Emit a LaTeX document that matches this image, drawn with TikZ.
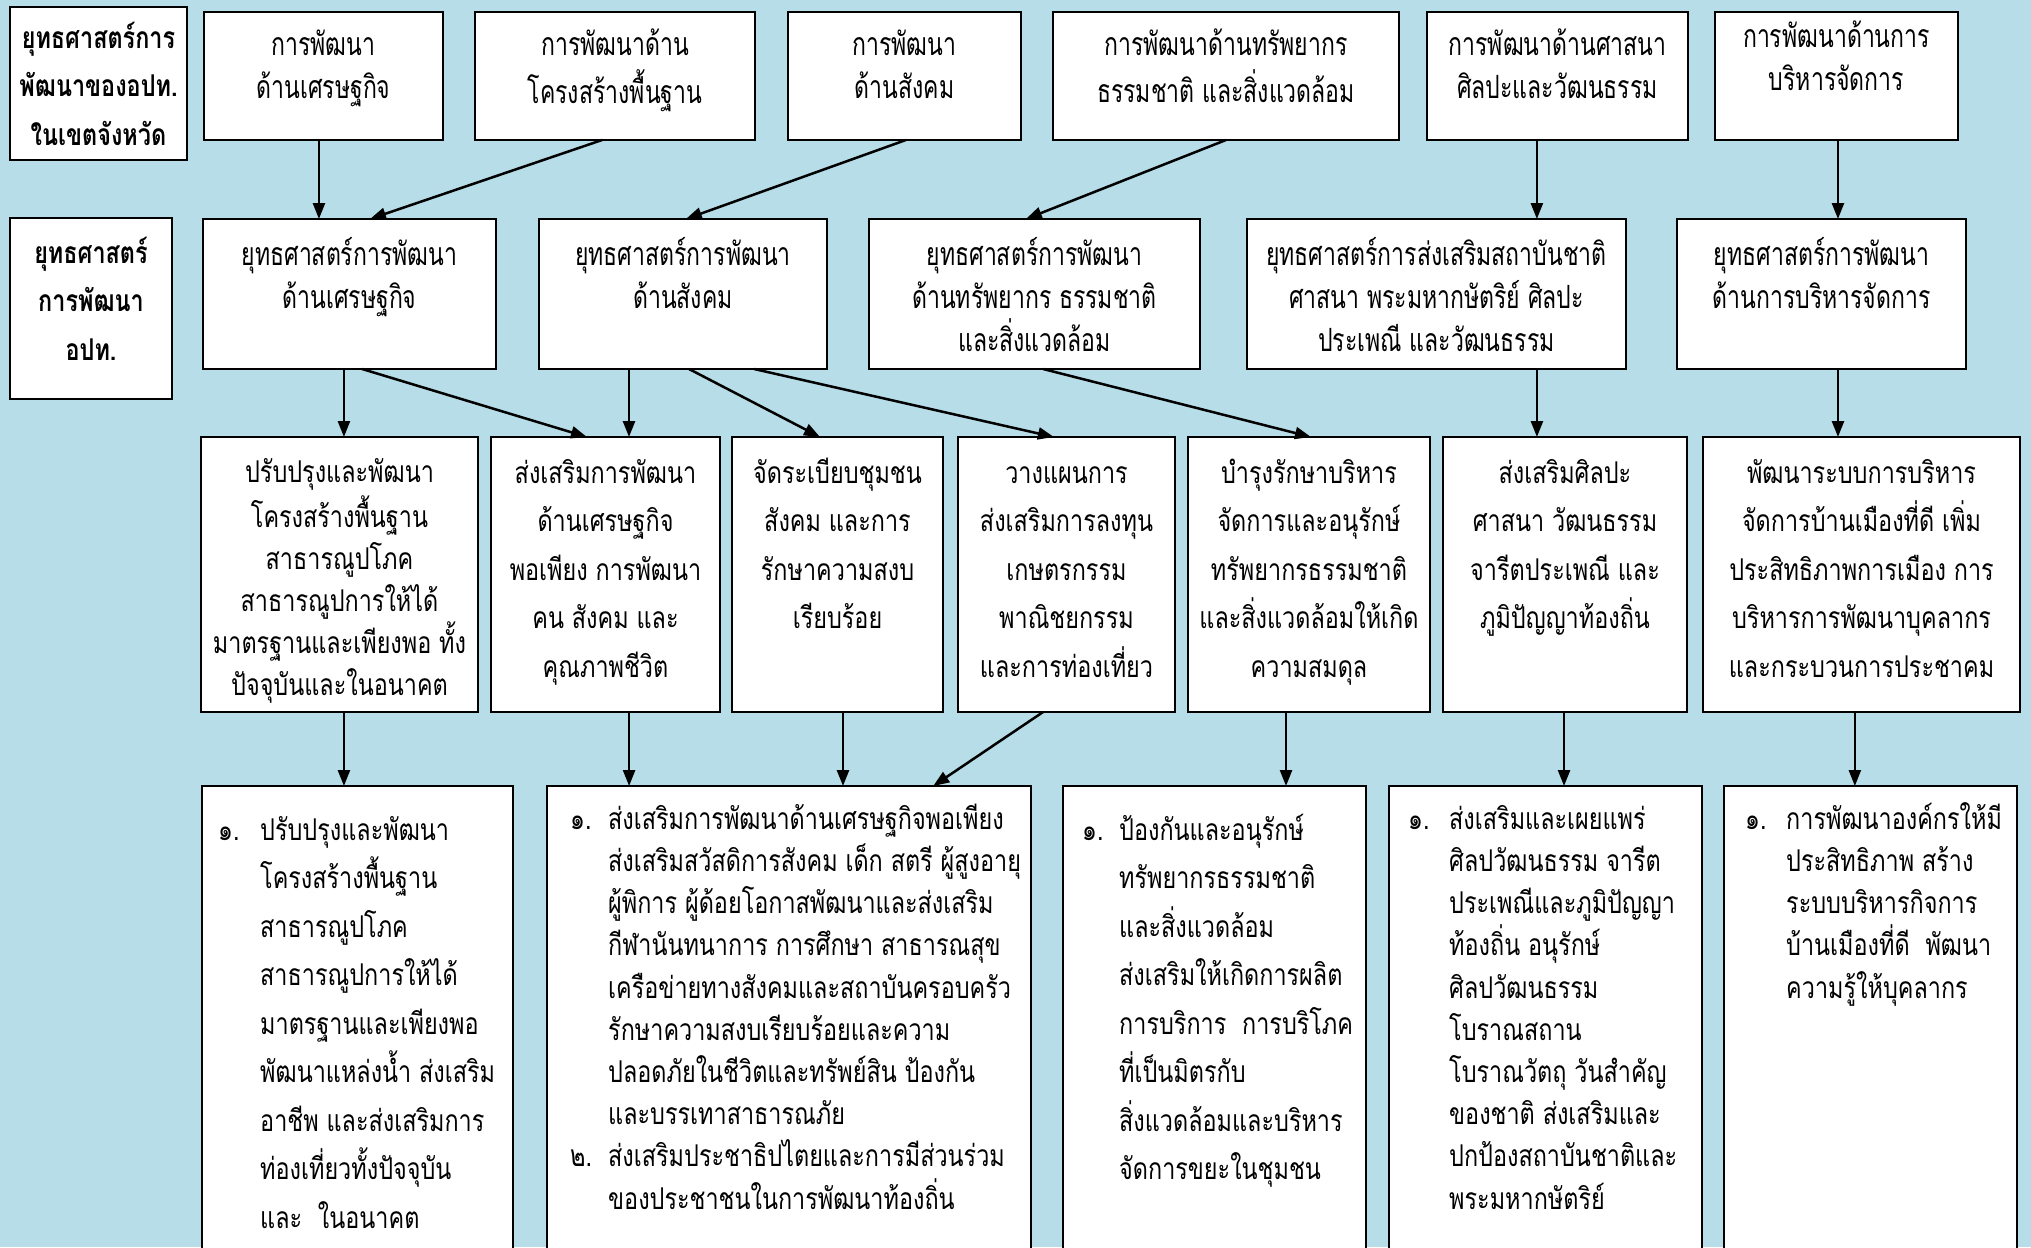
\documentclass[tikz,border=0pt]{standalone}
\usepackage{fontspec}
\usetikzlibrary{arrows.meta,calc}
\newfontfamily\thf[Script=Thai,FakeStretch=0.78]{Loma}
\newfontfamily\thn[Script=Thai,FakeStretch=0.72]{Loma}
\definecolor{bgc}{RGB}{183,221,232}
\newcommand\numbox[2]{\makebox[#1][l]{#2}}
\newcommand\vconn[3]{\draw[arr] ($(#1.south west)!#2!(#1.south east)$) coordinate (vc) -- (vc |- #3.north);}
\newcommand\dconn[4]{\draw[arr] ($(#1.south west)!#2!(#1.south east)$) -- ($(#3.north west)!#4!(#3.north east)$);}
\begin{document}
\begin{tikzpicture}[x=1pt,y=-1pt,
  box/.style={draw=black, line width=2.5pt, fill=white, anchor=north west, inner sep=0pt, outer sep=0pt},
  arr/.style={line width=2.5pt, -{Triangle[length=16pt,width=12pt]}},
  toptxt/.style={anchor=north, inner sep=0pt, align=center, font=\thn\fontsize{32}{43}\selectfont},
  labtxt/.style={anchor=north, inner sep=0pt, align=center, font=\thf\bfseries\fontsize{30}{48.5}\selectfont},
  midtxt/.style={anchor=north, inner sep=0pt, align=center, font=\thf\fontsize{30}{48.5}\selectfont},
  midtxtn/.style={anchor=north, inner sep=0pt, align=center, font=\thf\fontsize{30}{42}\selectfont},
  bottxt/.style={anchor=north west, inner sep=0pt, align=left, font=\thf\fontsize{30}{42.2}\selectfont},
  bottxtw/.style={anchor=north west, inner sep=0pt, align=left, font=\thf\fontsize{30}{48.5}\selectfont}
]
\path[fill=bgc, use as bounding box] (0,0) rectangle (2031,1247);
\clip (0,0) rectangle (2031,1247);

% ---- row 1
\node[box, minimum width=177pt, minimum height=153pt] (LA) at (10,7) {};
\node[box, minimum width=239pt, minimum height=128pt] (B1) at (204,12) {};
\node[box, minimum width=280pt, minimum height=128pt] (B2) at (475,12) {};
\node[box, minimum width=233pt, minimum height=128pt] (B3) at (788,12) {};
\node[box, minimum width=346pt, minimum height=128pt] (B4) at (1053,12) {};
\node[box, minimum width=261pt, minimum height=128pt] (B5) at (1427,12) {};
\node[box, minimum width=243pt, minimum height=128pt] (B6) at (1715,12) {};
\node[labtxt] (LAt) at ($(LA.north)+(0,7)$) {\strut ยุทธศาสตร์การ\\พัฒนาของอปท.\\ในเขตจังหวัด};
\node[toptxt] (B1t) at ($(B1.north)+(0,13)$) {\strut การพัฒนา\\ด้านเศรษฐกิจ};
\node[toptxt] (B2t) at ($(B2.north)+(0,13)$) {\strut การพัฒนาด้าน\\โครงสร้างพื้นฐาน};
\node[toptxt] (B3t) at ($(B3.north)+(0,13)$) {\strut การพัฒนา\\ด้านสังคม};
\node[toptxt] (B4t) at ($(B4.north)+(0,13)$) {\strut การพัฒนาด้านทรัพยากร\\ธรรมชาติ และสิ่งแวดล้อม};
\node[toptxt] (B5t) at ($(B5.north)+(0,13)$) {\strut การพัฒนาด้านศาสนา\\ศิลปะและวัฒนธรรม};
\node[toptxt] (B6t) at ($(B6.north)+(0,5)$) {\strut การพัฒนาด้านการ\\บริหารจัดการ};

% ---- row 2
\node[box, minimum width=162pt, minimum height=181pt] (LB) at (10,218) {};
\node[box, minimum width=293pt, minimum height=150pt] (S1) at (203,219) {};
\node[box, minimum width=288pt, minimum height=150pt] (S2) at (539,219) {};
\node[box, minimum width=331pt, minimum height=150pt] (S3) at (869,219) {};
\node[box, minimum width=379pt, minimum height=150pt] (S4) at (1247,219) {};
\node[box, minimum width=289pt, minimum height=150pt] (S5) at (1677,219) {};
\node[labtxt] (LBt) at ($(LB.north)+(0,11)$) {\strut ยุทธศาสตร์\\การพัฒนา\\อปท.};
\node[toptxt] (S1t) at ($(S1.north)+(0,16)$) {\strut ยุทธศาสตร์การพัฒนา\\ด้านเศรษฐกิจ};
\node[toptxt] (S2t) at ($(S2.north)+(0,16)$) {\strut ยุทธศาสตร์การพัฒนา\\ด้านสังคม};
\node[toptxt] (S3t) at ($(S3.north)+(0,16)$) {\strut ยุทธศาสตร์การพัฒนา\\ด้านทรัพยากร ธรรมชาติ\\และสิ่งแวดล้อม};
\node[toptxt] (S4t) at ($(S4.north)+(0,16)$) {\strut ยุทธศาสตร์การส่งเสริมสถาบันชาติ\\ศาสนา พระมหากษัตริย์ ศิลปะ\\ประเพณี และวัฒนธรรม};
\node[toptxt] (S5t) at ($(S5.north)+(0,16)$) {\strut ยุทธศาสตร์การพัฒนา\\ด้านการบริหารจัดการ};

% ---- row 3
\node[box, minimum width=277pt, minimum height=275pt] (T1) at (201,437) {};
\node[box, minimum width=229pt, minimum height=275pt] (T2) at (491,437) {};
\node[box, minimum width=211pt, minimum height=275pt] (T3) at (732,437) {};
\node[box, minimum width=217pt, minimum height=275pt] (T4) at (958,437) {};
\node[box, minimum width=242pt, minimum height=275pt] (T5) at (1188,437) {};
\node[box, minimum width=244pt, minimum height=275pt] (T6) at (1443,437) {};
\node[box, minimum width=317pt, minimum height=275pt] (T7) at (1703,437) {};
\node[midtxtn] (T1t) at ($(T1.north)+(0,16)$) {\strut ปรับปรุงและพัฒนา\\โครงสร้างพื้นฐาน\\สาธารณูปโภค\\สาธารณูปการให้ได้\\มาตรฐานและเพียงพอ ทั้ง\\ปัจจุบันและในอนาคต};
\node[midtxt] (T2t) at ($(T2.north)+(0,12)$) {\strut ส่งเสริมการพัฒนา\\ด้านเศรษฐกิจ\\พอเพียง การพัฒนา\\คน สังคม และ\\คุณภาพชีวิต};
\node[midtxt] (T3t) at ($(T3.north)+(0,12)$) {\strut จัดระเบียบชุมชน\\สังคม และการ\\รักษาความสงบ\\เรียบร้อย};
\node[midtxt] (T4t) at ($(T4.north)+(0,12)$) {\strut วางแผนการ\\ส่งเสริมการลงทุน\\เกษตรกรรม\\พาณิชยกรรม\\และการท่องเที่ยว};
\node[midtxt] (T5t) at ($(T5.north)+(0,12)$) {\strut บำรุงรักษาบริหาร\\จัดการและอนุรักษ์\\ทรัพยากรธรรมชาติ\\และสิ่งแวดล้อมให้เกิด\\ความสมดุล};
\node[midtxt] (T6t) at ($(T6.north)+(0,12)$) {\strut ส่งเสริมศิลปะ\\ศาสนา วัฒนธรรม\\จารีตประเพณี และ\\ภูมิปัญญาท้องถิ่น};
\node[midtxt] (T7t) at ($(T7.north)+(0,12)$) {\strut พัฒนาระบบการบริหาร\\จัดการบ้านเมืองที่ดี เพิ่ม\\ประสิทธิภาพการเมือง การ\\บริหารการพัฒนาบุคลากร\\และกระบวนการประชาคม};

% ---- row 4
\node[box, minimum width=311pt, minimum height=480pt] (U1) at (202,786) {};
\node[box, minimum width=484pt, minimum height=480pt] (U2) at (547,786) {};
\node[box, minimum width=303pt, minimum height=480pt] (U3) at (1063,786) {};
\node[box, minimum width=313pt, minimum height=480pt] (U4) at (1389,786) {};
\node[box, minimum width=293pt, minimum height=480pt] (U5) at (1724,786) {};
\node[bottxtw] (U1t) at ($(U1.north west)+(16,20)$) {\strut\numbox{42pt}{๑.}ปรับปรุงและพัฒนา\\\hspace*{42pt}โครงสร้างพื้นฐาน\\\hspace*{42pt}สาธารณูปโภค\\\hspace*{42pt}สาธารณูปการให้ได้\\\hspace*{42pt}มาตรฐานและเพียงพอ\\\hspace*{42pt}พัฒนาแหล่งน้ำ ส่งเสริม\\\hspace*{42pt}อาชีพ และส่งเสริมการ\\\hspace*{42pt}ท่องเที่ยวทั้งปัจจุบัน\\\hspace*{42pt}และ\ \ ในอนาคต};
\node[bottxt] (U2t) at ($(U2.north west)+(23,13.5)$) {\strut\numbox{38pt}{๑.}ส่งเสริมการพัฒนาด้านเศรษฐกิจพอเพียง\\\hspace*{38pt}ส่งเสริมสวัสดิการสังคม เด็ก สตรี ผู้สูงอายุ\\\hspace*{38pt}ผู้พิการ ผู้ด้อยโอกาสพัฒนาและส่งเสริม\\\hspace*{38pt}กีฬานันทนาการ การศึกษา สาธารณสุข\\\hspace*{38pt}เครือข่ายทางสังคมและสถาบันครอบครัว\\\hspace*{38pt}รักษาความสงบเรียบร้อยและความ\\\hspace*{38pt}ปลอดภัยในชีวิตและทรัพย์สิน ป้องกัน\\\hspace*{38pt}และบรรเทาสาธารณภัย\\\numbox{38pt}{๒.}ส่งเสริมประชาธิปไตยและการมีส่วนร่วม\\\hspace*{38pt}ของประชาชนในการพัฒนาท้องถิ่น};
\node[bottxtw] (U3t) at ($(U3.north west)+(19,20)$) {\strut\numbox{37pt}{๑.}ป้องกันและอนุรักษ์\\\hspace*{37pt}ทรัพยากรธรรมชาติ\\\hspace*{37pt}และสิ่งแวดล้อม\\\hspace*{37pt}ส่งเสริมให้เกิดการผลิต\\\hspace*{37pt}การบริการ\ \ การบริโภค\\\hspace*{37pt}ที่เป็นมิตรกับ\\\hspace*{37pt}สิ่งแวดล้อมและบริหาร\\\hspace*{37pt}จัดการขยะในชุมชน};
\node[bottxt] (U4t) at ($(U4.north west)+(19,13.5)$) {\strut\numbox{41pt}{๑.}ส่งเสริมและเผยแพร่\\\hspace*{41pt}ศิลปวัฒนธรรม จารีต\\\hspace*{41pt}ประเพณีและภูมิปัญญา\\\hspace*{41pt}ท้องถิ่น อนุรักษ์\\\hspace*{41pt}ศิลปวัฒนธรรม\\\hspace*{41pt}โบราณสถาน\\\hspace*{41pt}โบราณวัตถุ วันสำคัญ\\\hspace*{41pt}ของชาติ ส่งเสริมและ\\\hspace*{41pt}ปกป้องสถาบันชาติและ\\\hspace*{41pt}พระมหากษัตริย์};
\node[bottxt] (U5t) at ($(U5.north west)+(21,13.5)$) {\strut\numbox{41pt}{๑.}การพัฒนาองค์กรให้มี\\\hspace*{41pt}ประสิทธิภาพ สร้าง\\\hspace*{41pt}ระบบบริหารกิจการ\\\hspace*{41pt}บ้านเมืองที่ดี\ \ พัฒนา\\\hspace*{41pt}ความรู้ให้บุคลากร};

% ---- connectors row1 -> row2
\vconn{B1}{0.481}{S1}
\dconn{B2}{0.454}{S1}{0.570}
\dconn{B3}{0.506}{S2}{0.510}
\dconn{B4}{0.5}{S3}{0.474}
\vconn{B5}{0.421}{S4}
\vconn{B6}{0.506}{S5}
% row2 -> row3
\vconn{S1}{0.481}{T1}
\dconn{S1}{0.543}{T2}{0.419}
\vconn{S2}{0.3125}{T2}
\dconn{S2}{0.521}{T3}{0.417}
\dconn{S2}{0.747}{T4}{0.442}
\dconn{S3}{0.526}{T5}{0.508}
\vconn{S4}{0.765}{T6}
\vconn{S5}{0.557}{T7}
% row3 -> row4
\vconn{T1}{0.516}{U1}
\vconn{T2}{0.603}{U2}
\vconn{T3}{0.526}{U2}
\dconn{T4}{0.392}{U2}{0.798}
\vconn{T5}{0.405}{U3}
\vconn{T6}{0.496}{U4}
\vconn{T7}{0.479}{U5}
\end{tikzpicture}
\end{document}
